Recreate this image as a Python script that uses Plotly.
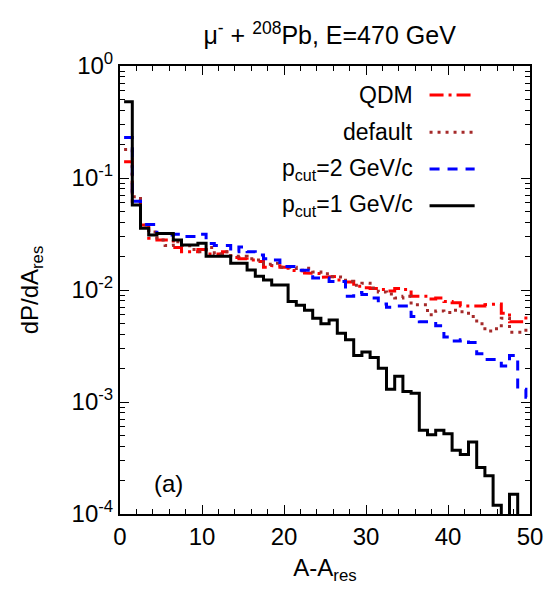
import plotly.graph_objects as go

# A - A_res bins (histogram steps, width 1)
bins = list(range(1, 51))

qdm = [0.14, 0.062, 0.038, 0.029, 0.028, 0.028, 0.024, 0.022, 0.022, 0.023,
       0.021, 0.021, 0.022, 0.0195, 0.019, 0.0185, 0.018, 0.016, 0.0165, 0.016,
       0.015, 0.0148, 0.0142, 0.014, 0.013, 0.0132, 0.0123, 0.0118, 0.0108, 0.0105,
       0.0103, 0.0101, 0.0098, 0.0103, 0.0101, 0.0088, 0.0088, 0.0083, 0.0085, 0.0079,
       0.0077, 0.0072, 0.0071, 0.0072, 0.0074, 0.0075, 0.0062, 0.0052, 0.0052, 0.0058]

default = [0.18, 0.068, 0.038, 0.033, 0.028, 0.025, 0.027, 0.025, 0.023, 0.022,
           0.024, 0.021, 0.022, 0.020, 0.020, 0.019, 0.0185, 0.017, 0.0173, 0.016,
           0.016, 0.015, 0.0156, 0.0145, 0.014, 0.0132, 0.013, 0.012, 0.011, 0.0115,
           0.0104, 0.0096, 0.0092, 0.0085, 0.0088, 0.0074, 0.0074, 0.0060, 0.0065, 0.0063,
           0.0066, 0.0064, 0.0058, 0.0050, 0.0043, 0.0045, 0.0056, 0.0042, 0.0042, 0.0046]

pcut2 = [0.23, 0.062, 0.0385, 0.0385, 0.032, 0.031, 0.0315, 0.030, 0.030, 0.0315,
         0.026, 0.025, 0.025, 0.022, 0.0242, 0.022, 0.0205, 0.019, 0.0185, 0.0162,
         0.0162, 0.0150, 0.0150, 0.0128, 0.0128, 0.0119, 0.0119, 0.0088, 0.0095, 0.0091,
         0.0085, 0.0075, 0.0070, 0.0072, 0.0072, 0.0058, 0.0052, 0.0052, 0.0048, 0.0038,
         0.0035, 0.0036, 0.0034, 0.0027, 0.0024, 0.0024, 0.0021, 0.0026, 0.0013, 0.0011]

pcut1 = [0.48, 0.0574, 0.0356, 0.031, 0.032, 0.032, 0.0279, 0.0252, 0.0252, 0.0261,
         0.020, 0.020, 0.020, 0.0173, 0.0173, 0.0151, 0.0133, 0.0123, 0.0111, 0.0111,
         0.0079, 0.0073, 0.0066, 0.0056, 0.0050, 0.0054, 0.0041, 0.0036, 0.0026, 0.0028,
         0.0025, 0.0020, 0.0013, 0.0017, 0.00124, 0.0012, 0.00056, 0.00051, 0.00056, 0.00052,
         0.00037, 0.00034, 0.00044, 0.00026, 0.00022, 0.00012, 0, 0.00015, 0, 0]

series_names = ["QDM", "default", "p<sub>cut</sub>=2 GeV/c", "p<sub>cut</sub>=1 GeV/c"]
x_ticks = [0, 10, 20, 30, 40, 50]
y_ticks = [1e-4, 1e-3, 1e-2, 1e-1, 1]
y_ticklabels = ["10<sup>-4</sup>", "10<sup>-3</sup>", "10<sup>-2</sup>", "10<sup>-1</sup>", "10<sup>0</sup>"]

FLOOR = 1e-7  # empty bins drawn below the axis (clipped)


def steps(x, y):
    xs, ys = [], []
    for xi, yi in zip(x, y):
        v = yi if yi > 0 else FLOOR
        xs += [xi - 0.5, xi + 0.5]
        ys += [v, v]
    return xs, ys


styles = [
    dict(color="#ff0000", width=3, dash="14px,5px,3px,5px"),
    dict(color="#a52a2a", width=3, dash="3px,5px"),
    dict(color="#0000ff", width=3, dash="10px,8px"),
    dict(color="#000000", width=3, dash="solid"),
]

fig = go.Figure()
for name, data, st in zip(series_names, [qdm, default, pcut2, pcut1], styles):
    xs, ys = steps(bins, data)
    fig.add_trace(go.Scatter(x=xs, y=ys, mode="lines", name=name, line=st,
                             showlegend=False, hoverinfo="skip"))

# gnuplot-style key: text right-aligned, sample line to the right
key_y = [0.935, 0.852, 0.770, 0.688]
for name, st, ky in zip(series_names, styles, key_y):
    fig.add_annotation(x=0.72, y=ky, xref="paper", yref="paper", text=name,
                       showarrow=False, xanchor="right", yanchor="middle",
                       font=dict(size=23, color="black"))
    fig.add_shape(type="line", xref="paper", yref="paper", x0=0.755, x1=0.865,
                  y0=ky, y1=ky, line=st)

fig.add_annotation(x=0.078, y=0.067, xref="paper", yref="paper", text="(a)",
                   showarrow=False, xanchor="left", yanchor="middle",
                   font=dict(size=24, color="black"))

axis_common = dict(showgrid=False, zeroline=False, showline=True, linecolor="black",
                   linewidth=2, mirror="ticks", ticks="inside", ticklen=9, tickwidth=1,
                   tickcolor="black", tickfont=dict(size=24, color="black"))

fig.update_xaxes(range=[0, 50], tickvals=x_ticks,
                 minor=dict(dtick=2, ticks="inside", ticklen=5, tickcolor="black"),
                 title=dict(text="A-A<sub>res</sub>", font=dict(size=24, color="black"), standoff=10),
                 **axis_common)
fig.update_yaxes(type="log", range=[-4, 0], tickvals=y_ticks, ticktext=y_ticklabels,
                 minor=dict(dtick="D1", ticks="inside", ticklen=5, tickcolor="black"),
                 title=dict(text="dP/dA<sub>res</sub>", font=dict(size=24, color="black"), standoff=26),
                 **axis_common)

# page has an 8px body margin, so the figure is sized and offset accordingly
fig.update_layout(
    width=547, height=590,
    margin=dict(l=112, r=19, t=58, b=84),
    paper_bgcolor="white", plot_bgcolor="white",
    font=dict(family="Liberation Sans, Arial, sans-serif", color="black"),
    title=dict(text="\u03bc<sup>-</sup> + <sup>208</sup>Pb, E=470 GeV", x=0.588, xanchor="center",
               y=0.953, yanchor="middle", font=dict(size=25, color="black")),
)

fig.write_html("out.html")
